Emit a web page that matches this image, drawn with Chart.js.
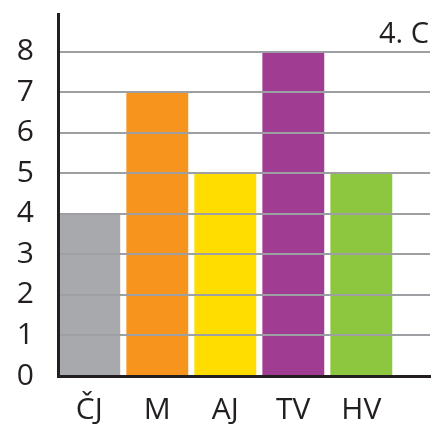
<!DOCTYPE html>
<html>
<head>
<meta charset="utf-8">
<script src="https://cdn.jsdelivr.net/npm/chart.js@4"></script>
<style>
  html, body { margin: 0; padding: 0; background: #fff; }
  #wrap { width: 432px; height: 424px; }
</style>
</head>
<body>
<div id="wrap"><canvas id="gradesChart" width="432" height="424"></canvas></div>
<script>
"use strict";

// data
var subjects = ["ČJ", "M", "AJ", "TV", "HV"];
var grades = [4, 7, 5, 8, 5];
var barColors = ["#a7a9ac", "#f7941d", "#ffdd00", "#a03d93", "#8dc63f"];
var yTicks = [0, 1, 2, 3, 4, 5, 6, 7, 8];
var classLabel = "4. C";

var textColor = "#231f20";
var fontFamily = "'Open Sans', 'Noto Sans', sans-serif";

// draws the class label in the top right corner of the plot
var classLabelPlugin = {
  id: "classLabel",
  afterDraw: function (chart) {
    let ctx = chart.ctx;
    ctx.save();
    ctx.font = "29px " + fontFamily;
    ctx.fillStyle = textColor;
    ctx.textAlign = "right";
    ctx.textBaseline = "alphabetic";
    ctx.fillText(classLabel, chart.chartArea.right - 1, 43);
    ctx.restore();
  },
};

new Chart(document.getElementById("gradesChart"), {
  type: "bar",
  data: {
    datasets: [
      {
        data: subjects.map((s, idx) => ({ x: idx, y: grades[idx] })),
        backgroundColor: barColors,
        borderWidth: 0,
        barPercentage: 0.91,
        categoryPercentage: 1,
      },
    ],
  },
  options: {
    responsive: false,
    animation: false,
    layout: {
      padding: { top: 14, right: 2, left: 0, bottom: 0 },
    },
    plugins: {
      legend: { display: false },
      tooltip: { enabled: false },
    },
    scales: {
      x: {
        type: "linear",
        offset: false,
        min: -0.46,
        max: 5.01,
        afterBuildTicks: function (scale) {
          scale.ticks = subjects.map((s, idx) => ({ value: idx }));
        },
        afterFit: function (scale) {
          scale.height = 48;
          scale.paddingLeft = 0;
          scale.paddingRight = 0;
        },
        grid: { display: false, drawTicks: false },
        border: { display: true, color: textColor, width: 3, z: 2 },
        ticks: {
          color: textColor,
          font: { family: fontFamily, size: 30 },
          padding: 16,
          maxRotation: 0,
          autoSkip: false,
          callback: function (value) {
            return subjects[value];
          },
        },
      },
      y: {
        min: 0,
        max: 8.93,
        afterBuildTicks: function (scale) {
          scale.ticks = yTicks.map((v) => ({ value: v }));
        },
        afterFit: function (scale) {
          scale.width = 58;
          scale.paddingTop = 0;
          scale.paddingBottom = 0;
        },
        grid: {
          z: 1,
          drawTicks: false,
          lineWidth: 2,
          color: function (c) {
            return c.tick && c.tick.value === 0 ? "rgba(0,0,0,0)" : "#9d9fa2";
          },
        },
        border: { display: true, color: textColor, width: 3, z: 2 },
        ticks: {
          color: textColor,
          font: { family: fontFamily, size: 30 },
          padding: 24,
        },
      },
    },
  },
  plugins: [classLabelPlugin],
});
</script>
</body>
</html>
